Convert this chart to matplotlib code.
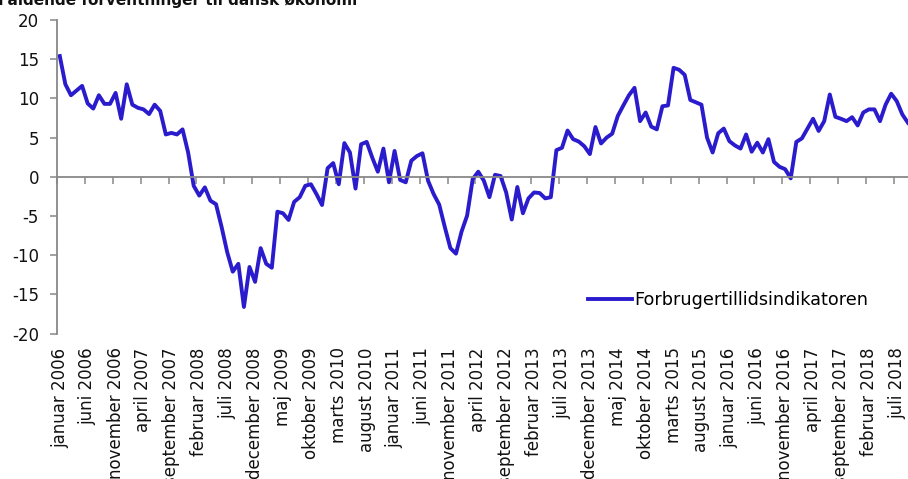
import matplotlib
matplotlib.use("Agg")
from matplotlib import pyplot as plt

plt.rcParams['font.family'] = ['DejaVu Sans']
plt.rcParams['axes.unicode_minus'] = False

# monthly values, januar 2006 - september 2018
values = [
    15.4, 11.8, 10.4, 11.0, 11.6, 9.35, 8.7, 10.4, 9.3, 9.3, 10.7, 7.4,
    11.8, 9.2, 8.8, 8.6, 8.0, 9.2, 8.4, 5.4, 5.6, 5.4, 6.05, 3.1,
    -1.15, -2.4, -1.35, -3.05, -3.5, -6.4, -9.6, -12.1, -11.1, -16.6, -11.5, -13.4,
    -9.1, -11.1, -11.6, -4.45, -4.65, -5.5, -3.2, -2.6, -1.15, -0.95, -2.2, -3.6,
    1.1, 1.75, -0.95, 4.3, 3.1, -1.5, 4.15, 4.45, 2.45, 0.65, 3.6, -0.7,
    3.3, -0.4, -0.7, 2.05, 2.65, 3.0, -0.5, -2.2, -3.55, -6.4, -9.1, -9.8,
    -7.0, -4.95, -0.3, 0.65, -0.5, -2.6, 0.25, 0.1, -2.0, -5.45, -1.3, -4.65,
    -2.75, -2.0, -2.07, -2.75, -2.6, 3.4, 3.7, 5.9, 4.8, 4.5, 3.9, 2.9,
    6.35, 4.25, 5.0, 5.5, 7.75, 9.1, 10.4, 11.35, 7.1, 8.2, 6.4, 6.05,
    9.0, 9.1, 13.9, 13.65, 13.0, 9.8, 9.5, 9.2, 5.0, 3.1, 5.55, 6.15,
    4.55, 4.0, 3.6, 5.4, 3.2, 4.35, 3.1, 4.8, 1.9, 1.27, 0.97, -0.2,
    4.45, 4.9, 6.15, 7.4, 5.85, 7.1, 10.5, 7.65, 7.4, 7.1, 7.6, 6.55,
    8.2, 8.6, 8.6, 7.1, 9.2, 10.6, 9.65, 7.95, 6.9,
]
months = ["januar", "februar", "marts", "april", "maj", "juni", "juli",
          "august", "september", "oktober", "november", "december"]
labels = [f"{months[i % 12]} {2006 + i // 12}" for i in range(len(values))]
series_name = "Forbrugertillidsindikatoren"
title = "Faldende forventninger til dansk økonomi"

line_color = "#2a1ccc"
axis_color = "#888888"

fig = plt.figure(figsize=(9.08, 4.79), dpi=100)
W, H = 908, 479
left, right, top, bottom = 57, 910.7, 20, 333.6
ax = fig.add_axes([left / W, 1 - bottom / H, (right - left) / W, (bottom - top) / H])

x = list(range(len(values)))
ax.plot(x, values, color=line_color, lw=2.8, solid_joinstyle='round', label=series_name)

ax.set_xlim(-0.5, len(values) - 0.5)
ax.set_ylim(-20, 20)
ax.set_yticks(range(-20, 21, 5))

for s in ['top', 'right']:
    ax.spines[s].set_visible(False)
ax.spines['left'].set_color(axis_color)
ax.spines['left'].set_linewidth(1.3)
ax.spines['bottom'].set_position(('data', 0))
ax.spines['bottom'].set_color(axis_color)
ax.spines['bottom'].set_linewidth(1.3)

# tick marks between categories on the zero line
ax.set_xticks([k - 0.5 for k in range(0, len(values) + 1, 5)])
ax.tick_params(axis='x', direction='out', length=5, width=1.1, color=axis_color,
               labelbottom=False)
ax.tick_params(axis='y', direction='out', length=5, width=1.1, color=axis_color,
               labelsize=12, pad=8, labelcolor='#111111')

# category labels at the bottom of the plot area
sec = ax.secondary_xaxis(0.0)
sec.spines['bottom'].set_visible(False)
sec.set_xticks(x[::5])
sec.set_xticklabels(labels[::5], rotation=90, fontsize=12, color='#111111')
sec.tick_params(axis='x', length=0, pad=10)

ax.legend(loc='center left', bbox_to_anchor=(0.622, 0.107), frameon=False,
          fontsize=12.7, handlelength=2.5, handletextpad=0.15, borderpad=0,
          borderaxespad=0)

# title is cropped at the top edge in the reference
fig.text(-0.002, 1 - 5 / H, title, fontsize=11, fontweight='bold',
         va='baseline', ha='left', color='#111111')

fig.savefig("out.png", dpi=100)
